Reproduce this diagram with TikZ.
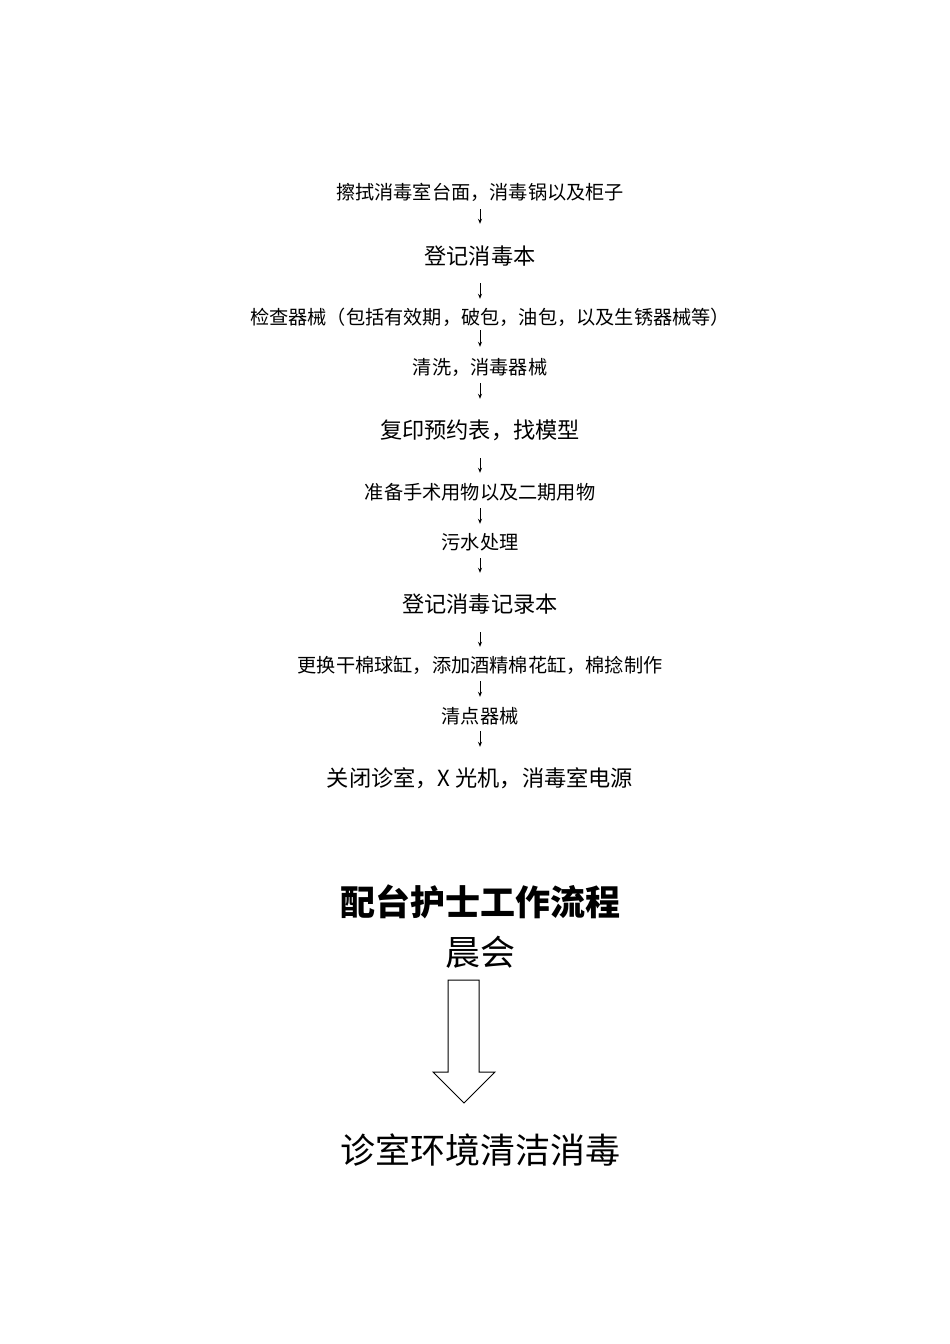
\documentclass[tikz,border=0pt]{standalone}
\usepackage{fontspec}
\setmainfont{Noto Sans CJK SC}
\usetikzlibrary{arrows.meta}
\tikzset{
  small/.style={inner sep=0pt, font=\fontsize{19.2}{19.2}\selectfont, text height=17.5pt, text depth=1.5pt},
  big/.style={inner sep=0pt, font=\fontsize{22.2}{22.2}\selectfont, text height=20pt, text depth=2pt},
  huge/.style={inner sep=0pt, font=\fontsize{35}{35}\selectfont, text height=31pt, text depth=4pt},
  title/.style={huge, font=\fontsize{35}{35}\selectfont\bfseries},
  flow/.style 2 args={-{Stealth[length=5pt,width=4pt]}, line width=0.8pt, shorten <=#1, shorten >=#2},
  blockarrow/.style={draw, line width=1pt, fill=white}
}
\begin{document}
\begin{tikzpicture}[x=1pt,y=-1pt]
\useasboundingbox (0,0) rectangle (950,1344);
\node[small] (n1) at (480,191) {擦拭消毒室台面，消毒锅以及柜子};
\node[big] (n2) at (480,255) {登记消毒本};
\node[small] (n3) at (490,316) {检查器械（包括有效期，破包，油包，以及生锈器械等）};
\node[small] (n4) at (480,366) {清洗，消毒器械};
\node[big] (n5) at (480,429) {复印预约表，找模型};
\node[small] (n6) at (480,491) {准备手术用物以及二期用物};
\node[small] (n7) at (480,541) {污水处理};
\node[big] (n8) at (480,603) {登记消毒记录本};
\node[small] (n9) at (480,664) {更换干棉球缸，添加酒精棉花缸，棉捻制作};
\node[small] (n10) at (480,715) {清点器械};
\node[big] (n11) at (480,777) {关闭诊室，X 光机，消毒室电源};
\node[title] (t) at (480,902) {配台护士工作流程};
\node[huge] (m1) at (480,952) {晨会};
\node[huge] (m2) at (480,1150) {诊室环境清洁消毒};
\draw[flow={8.5}{20}] (n1.south) -- (n2.north);
\draw[flow={17}{7.5}] (n2.south) -- (n2.south |- n3.north);
\draw[flow={4.5}{9.5}] (n2.south |- n3.south) -- (n4.north);
\draw[flow={7.5}{19}] (n4.south) -- (n5.north);
\draw[flow={18}{8.5}] (n5.south) -- (n6.north);
\draw[flow={7.5}{7.5}] (n6.south) -- (n7.north);
\draw[flow={7.5}{19}] (n7.south) -- (n8.north);
\draw[flow={18}{7.5}] (n8.south) -- (n9.north);
\draw[flow={7.5}{8.5}] (n9.south) -- (n10.north);
\draw[flow={6.5}{19}] (n10.south) -- (n11.north);
\draw[blockarrow] (448,980) -- (479,980) -- (479,1072) -- (495,1072) -- (464,1103) -- (433,1072) -- (448,1072) -- cycle;
\end{tikzpicture}
\end{document}
